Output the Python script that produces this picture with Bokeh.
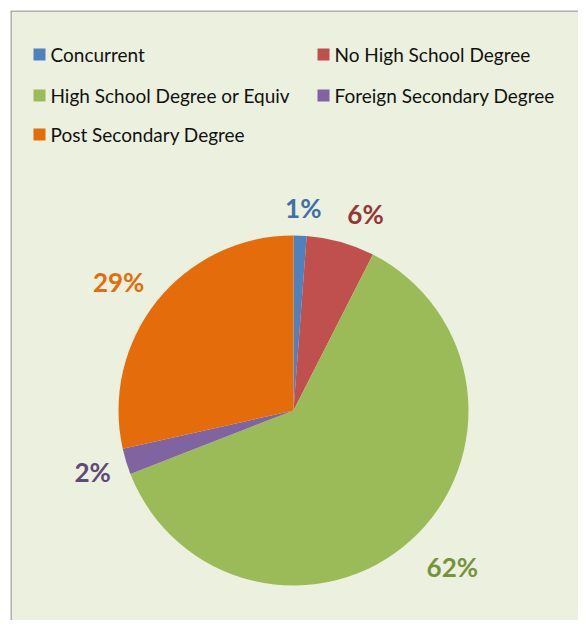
import math
from bokeh.plotting import figure
from bokeh.models import Range1d, ColumnDataSource
from bokeh.core.properties import value
from bokeh.embed import file_html
from bokeh.resources import INLINE

# ---- data ----
categories = ["Concurrent", "No High School Degree", "High School Degree or Equiv",
              "Foreign Secondary Degree", "Post Secondary Degree"]
shares = [1.2, 6.3, 61.6, 2.4, 28.5]
labels = ["1%", "6%", "62%", "2%", "29%"]
colors = ["#4F81BD", "#C0504D", "#9BBB59", "#8064A2", "#E46C0A"]
label_colors = ["#3F6FA8", "#963634", "#76933C", "#5F497A", "#E46C0A"]

W, H = 578, 620
BG = "#EBF1DE"
M = 10  # white strip before the chart border

p = figure(width=W, height=H, output_backend="svg", toolbar_location=None,
           x_range=Range1d(0, W - M), y_range=Range1d(0, H - M),
           min_border_left=M, min_border_top=M, min_border_right=0, min_border_bottom=0)
p.axis.visible = False
p.grid.visible = False
p.outline_line_color = None
p.background_fill_color = BG
p.border_fill_color = "white"

# canvas pixel -> data helpers
def X(px):
    return px - M
def Y(py):
    return H - py

# chart border (left & top)
p.line([0.5, 0.5, W], [0, H - M - 0.5, H - M - 0.5], line_color="#9c9c9c", line_width=1.5)

# ---- pie ----
cx, cy, r = X(293), Y(410), 175
total = sum(shares)
starts, ends, mids = [], [], []
cum = 0.0
for s in shares:
    a0 = math.pi / 2 - 2 * math.pi * cum / total
    cum += s
    a1 = math.pi / 2 - 2 * math.pi * cum / total
    starts.append(a0)
    ends.append(a1)
    mids.append((a0 + a1) / 2)

src = ColumnDataSource(dict(start=starts, end=ends, color=colors))
p.wedge(x=cx, y=cy, radius=r, start_angle="start", end_angle="end", direction="clock",
        fill_color="color", line_color=None, source=src)

# data labels placed outside along each slice's mid angle
label_r = [203, 209, 223, 210, 217]
label_nudge_deg = [-0.6, -4.5, 3.3, 0.0, 2.4]
lx, ly = [], []
for m, rr, nd in zip(mids, label_r, label_nudge_deg):
    a = m + math.radians(nd)
    lx.append(cx + rr * math.cos(a))
    ly.append(cy + rr * math.sin(a))
p.text(x=lx, y=ly, text=labels, text_color=label_colors, text_font=value("Lato"),
       text_font_style="bold", text_font_size="26px", text_align="center",
       text_baseline="middle")

# ---- legend ----
leg_col_x = [X(39), X(323)]
leg_row_y = [Y(54), Y(95), Y(134)]
sq_x, sq_y, tx, ty = [], [], [], []
for i, c in enumerate(categories):
    col = i % 2
    row = i // 2
    sq_x.append(leg_col_x[col])
    sq_y.append(leg_row_y[row])
    tx.append(leg_col_x[col] + 11)
    ty.append(leg_row_y[row])
p.rect(x=sq_x, y=sq_y, width=12, height=12, fill_color=colors, line_color=None)
p.text(x=tx, y=ty, text=categories, text_color="#111111", text_font=value("Lato"),
       text_font_size="19px", text_align="left", text_baseline="middle")

open("out.html", "w").write(file_html(p, INLINE))
